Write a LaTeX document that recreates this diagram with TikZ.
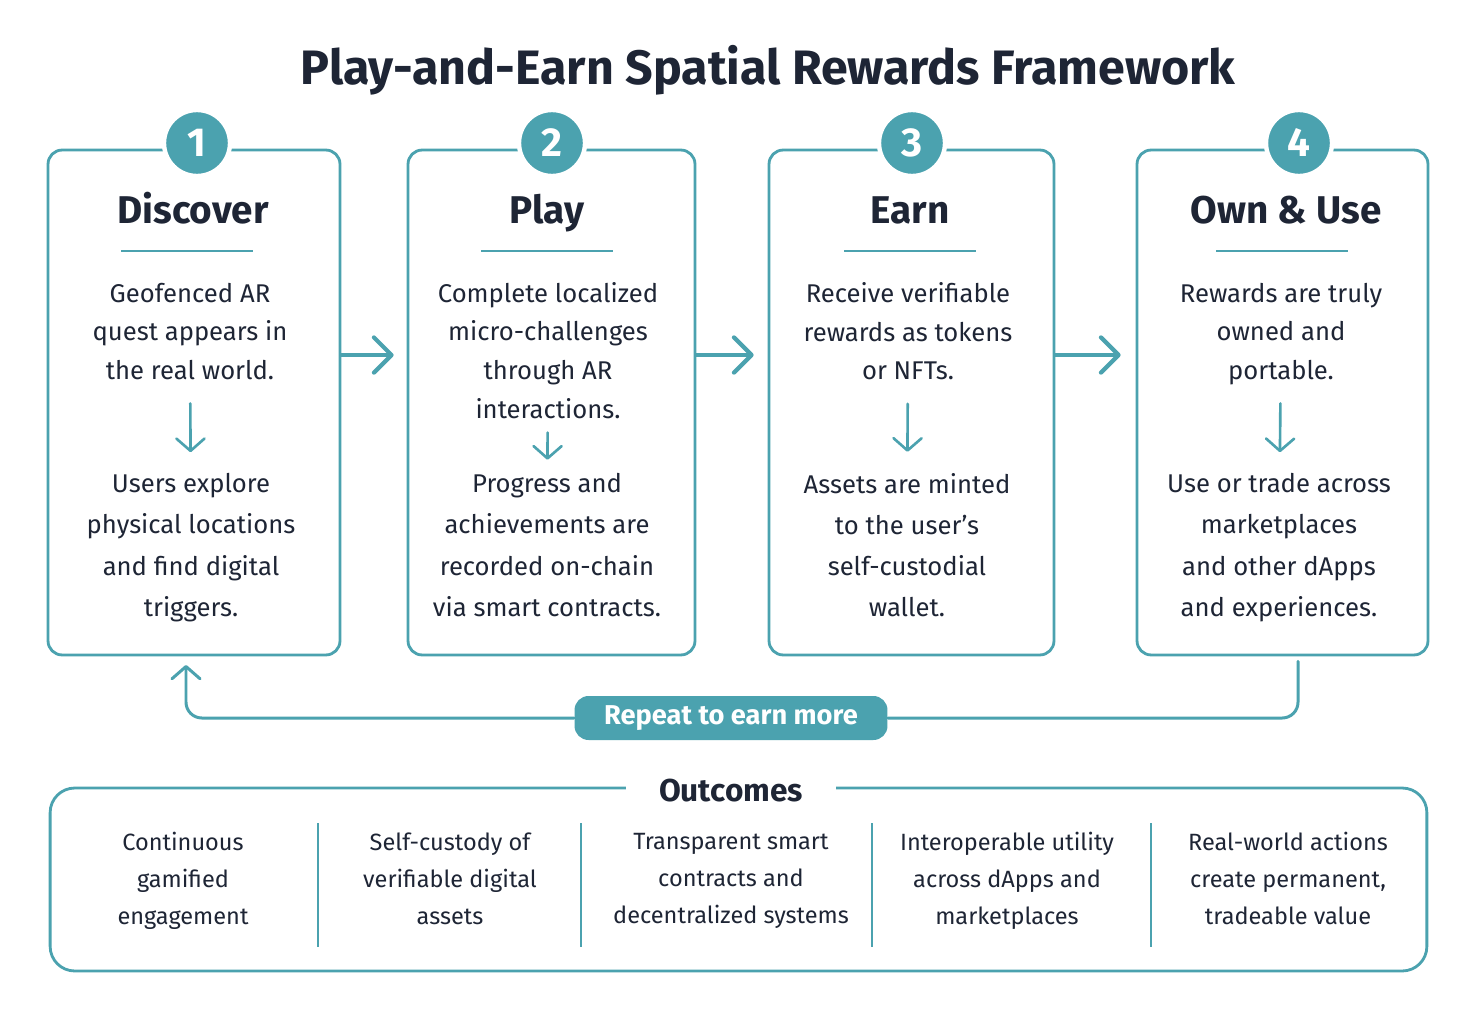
\documentclass[tikz,border=0pt]{standalone}
\usepackage{fontspec}
\setmainfont{Fira Sans}
\usepackage{xcolor}
\usetikzlibrary{positioning, arrows.meta, calc}
\definecolor{tealline}{HTML}{4BA2AF}
\definecolor{ink}{HTML}{1E2535}

\tikzset{
  stepbox/.style={rectangle, draw=tealline, line width=1.6pt, rounded corners=8pt, minimum height=10.1cm},
  numdot/.style={circle, fill=tealline, draw=white, line width=2.5pt, minimum size=1.32cm, inner sep=0pt, text=white, font=\bfseries\fontsize{23}{23}\selectfont},
  stephead/.style={text=ink, inner sep=0pt, anchor=base, font=\bfseries\fontsize{22}{24}\selectfont},
  strutted/.style={execute at begin node=\strut, execute at end node=\strut},
  uptext/.style={strutted, text=ink, align=center, inner sep=0pt, font=\fontsize{14.6}{22}\selectfont},
  lowtext/.style={strutted, text=ink, align=center, inner sep=0pt, font=\fontsize{14.6}{23.4}\selectfont},
  outtext/.style={strutted, text=ink, align=center, inner sep=0pt, font=\fontsize{13.4}{21}\selectfont},
  hop/.style={draw=tealline, line width=2.4pt, line cap=round, -{Straight Barb[length=10pt, width=20pt, round]}},
  drop/.style={draw=tealline, line width=1.5pt, line cap=round, -{Straight Barb[length=7pt, width=16pt, round]}},
  loopline/.style={draw=tealline, line width=1.7pt, line cap=round, rounded corners=9pt}
}

\begin{document}
\begin{tikzpicture}[x=0.02cm, y=-0.02cm]
    \useasboundingbox[fill=white] (0,0) rectangle (1476,1020);

    \node[text=ink, anchor=base, font=\bfseries\fontsize{27.5}{30}\selectfont] (title) at (768,85) {Play-and-Earn Spatial Rewards Framework};

    \node[stepbox, minimum width=5.84cm] (b1) at (194,402.5) {};
    \node[stepbox, minimum width=5.74cm] (b2) at (551.5,402.5) {};
    \node[stepbox, minimum width=5.70cm] (b3) at (911.5,402.5) {};
    \node[stepbox, minimum width=5.82cm] (b4) at (1282.5,402.5) {};

    \node[numdot] (n1) at (197,143) {1};
    \node[numdot] (n2) at (552,143) {2};
    \node[numdot] (n3) at (912,143) {3};
    \node[numdot] (n4) at (1299,143) {4};

    \node[stephead] (h1) at (193,224) {Discover};
    \node[stephead] (h2) at (547,224) {Play};
    \node[stephead] (h3) at (910,224) {Earn};
    \node[stephead] (h4) at (1286,224) {Own \& Use};
    \foreach \x in {187,547,910,1282}
        \draw[tealline, line width=1.3pt] (\x-66,251) -- (\x+66,251);

    \node[uptext] (u1) at (190,337) {Geofenced AR\\quest appears in\\the real world.};
    \node[uptext] (u2) at (548,356) {Complete localized\\micro-challenges\\through AR\\interactions.};
    \node[uptext] (u3) at (908,337) {Receive verifiable\\rewards as tokens\\or NFTs.};
    \node[uptext] (u4) at (1281,337) {Rewards are truly\\owned and\\portable.};

    \node[lowtext] (l1) at (191,551) {Users explore\\physical locations\\and find digital\\triggers.};
    \node[lowtext] (l2) at (547,551) {Progress and\\achievements are\\recorded on-chain\\via smart contracts.};
    \node[lowtext] (l3) at (907,551) {Assets are minted\\to the user’s\\self-custodial\\wallet.};
    \node[lowtext] (l4) at (1279,551) {Use or trade across\\marketplaces\\and other dApps\\and experiences.};

    \draw[drop, shorten <=0.24cm, shorten >=0.42cm] (u1) -- (l1);
    \draw[drop, shorten <=0.05cm, shorten >=0.27cm] (u2) -- (l2);
    \draw[drop, shorten <=0.24cm, shorten >=0.42cm] (u3) -- (l3);
    \draw[drop, shorten <=0.24cm, shorten >=0.42cm] (u4) -- (l4);

    \draw[hop] ([yshift=0.95cm]b1.east) -- ([yshift=0.95cm, xshift=-0.26cm]b2.west);
    \draw[hop] ([yshift=0.95cm]b2.east) -- ([yshift=0.95cm, xshift=-0.28cm]b3.west);
    \draw[hop] ([yshift=0.95cm]b3.east) -- ([yshift=0.95cm, xshift=-0.30cm]b4.west);

    \node[rectangle, fill=tealline, rounded corners=8pt, minimum width=6.26cm, minimum height=0.88cm, text=white, font=\fontsize{15.5}{18}\selectfont\bfseries] (rep) at (731,718) {Repeat to earn more};
    \coordinate (back) at (186,665);
    \draw[loopline] ([yshift=-0.1cm]b4.south -| 1298,0) |- (rep.east);
    \draw[loopline, -{Straight Barb[length=7pt, width=16pt, round]}] (rep.west) -| (back);

    \node[rectangle, draw=tealline, line width=1.6pt, rounded corners=14pt, minimum width=27.54cm, minimum height=3.66cm] (out) at (738.5,879.5) {};
    \node[fill=white, inner xsep=0.66cm, text=ink, font=\bfseries\fontsize{18}{20}\selectfont] (outhead) at (731,791) {Outcomes};
    \foreach \x in {318,581,872,1151}
        \draw[tealline, line width=0.8pt] (\x,823) -- (\x,947);

    \node[outtext] (o1) at (183,884) {Continuous\\gamified\\engagement};
    \node[outtext] (o2) at (450,884) {Self-custody of\\verifiable digital\\assets};
    \node[outtext] (o3) at (731,884) {Transparent smart\\contracts and\\decentralized systems};
    \node[outtext] (o4) at (1007,884) {Interoperable utility\\across dApps and\\marketplaces};
    \node[outtext] (o5) at (1288,884) {Real-world actions\\create permanent,\\tradeable value};
\end{tikzpicture}
\end{document}
